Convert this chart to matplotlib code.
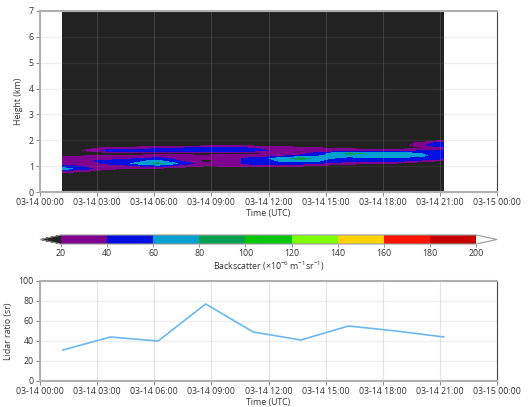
import numpy as np
import matplotlib
matplotlib.use('Agg')
import matplotlib.pyplot as plt
import matplotlib.dates as mdates
from matplotlib.colors import ListedColormap, BoundaryNorm
from datetime import datetime, timedelta

plt.rcParams['font.family'] = ['Open Sans', 'DejaVu Sans']
plt.rcParams['mathtext.fontset'] = 'custom'
plt.rcParams['mathtext.rm'] = 'Open Sans'
plt.rcParams['mathtext.it'] = 'Open Sans'
plt.rcParams['font.size'] = 6.3

# profile times (UTC) - every 2.5 h
times = [datetime(2023, 3, 14, 1, 12) + timedelta(minutes=150 * i) for i in range(9)]

heights = [0.06, 0.6, 0.7, 0.8, 0.9, 1.0, 1.1, 1.2, 1.3, 1.4, 1.5, 1.6, 1.7, 1.8, 1.9, 2.0, 2.1, 7.0]

# backscatter (x1e-6 m-1 sr-1), rows = heights, cols = times
backscatter = [
    [0,  0,  0,  0,  0,  0,  0,  0,  0],
    [0,  0,  0,  0,  0,  0,  0,  0,  0],
    [10, 0,  0,  0,  0,  0,  0,  0,  0],
    [30, 10, 5,  0,  0,  0,  0,  0,  0],
    [70, 22, 15, 5,  5,  5,  0,  0,  0],
    [45, 30, 45, 18, 25, 20, 5,  5,  5],
    [30, 42, 85, 25, 45, 45, 25, 15, 5],
    [30, 45, 65, 10, 50, 70, 45, 45, 15],
    [40, 30, 45, 25, 45, 90, 40, 55, 45],
    [15, 22, 25, 22, 25, 45, 75, 80, 50],
    [0,  10, 12, 15, 15, 30, 85, 70, 50],
    [0,  50, 50, 45, 45, 30, 30, 30, 40],
    [0,  28, 35, 45, 40, 25, 15, 10, 25],
    [0,  0,  5,  15, 15, 10, 5,  5,  60],
    [0,  0,  0,  0,  0,  0,  0,  0,  50],
    [0,  0,  0,  0,  0,  0,  0,  0,  20],
    [0,  0,  0,  0,  0,  0,  0,  0,  0],
    [0,  0,  0,  0,  0,  0,  0,  0,  0],
]

lidar_ratio = [31, 44, 40, 77, 49, 41, 55, 50, 44]

levels = [20, 40, 60, 80, 100, 120, 140, 160, 180, 200]
colors = ['#800090', '#0010e0', '#00a0d0', '#00a050', '#00c800',
          '#80ff00', '#ffd400', '#ff1400', '#c80000']

cmap = ListedColormap(colors)
cmap.set_under('#222222')
cmap.set_over('#ffffff')
norm = BoundaryNorm(levels, cmap.N)

W, H = 529, 407
fig = plt.figure(figsize=(W / 100, H / 100), dpi=100)
ax1 = fig.add_axes([40 / W, (H - 192) / H, 457 / W, 181 / H])
cax = fig.add_axes([40 / W, (H - 244) / H, 457 / W, 9 / H])
ax2 = fig.add_axes([40 / W, (H - 381) / H, 457 / W, 100 / H])

cf = ax1.contourf(mdates.date2num(times), heights, np.array(backscatter),
                  levels=levels, cmap=cmap, norm=norm, extend='both')

cb = fig.colorbar(cf, cax=cax, orientation='horizontal', ticks=levels)
cb.outline.set_edgecolor('#999999')
cb.outline.set_linewidth(0.8)
cb.set_label(r'Backscatter ($\times$10$^{-6}$ m$^{-1}$sr$^{-1}$)', color='#333333', labelpad=1)
cax.tick_params(length=2, color='#888888', labelcolor='#333333', width=0.6, pad=1.5)

ax2.plot(times, lidar_ratio, color='#6cb8f0', lw=1.2)

start = datetime(2023, 3, 14)
end = datetime(2023, 3, 15)
for ax in (ax1, ax2):
    ax.set_xlim(start, end)
    ax.xaxis.set_major_locator(mdates.HourLocator(byhour=range(0, 24, 3)))
    ax.xaxis.set_major_formatter(mdates.DateFormatter('%m-%d %H:%M'))
    ax.set_xlabel('Time (UTC)', color='#333333', labelpad=1)
    ax.grid(axis='x', color='#999999', alpha=0.25, lw=0.8)
    ax.grid(axis='y', color='#888888', alpha=0.13, lw=1.0)
    ax.tick_params(direction='out', length=3, width=0.7, color='#888888',
                   labelcolor='#333333', pad=1.5)
    for s in ('top', 'left', 'bottom'):
        ax.spines[s].set_color('#b0b0b0')
        ax.spines[s].set_linewidth(1.5)
    ax.spines['right'].set_color('#444444')
    ax.spines['right'].set_linewidth(0.8)

ax1.set_ylim(0, 7)
ax1.set_yticks(range(0, 8))
ax1.set_ylabel('Height (km)', color='#333333', labelpad=4)

ax2.set_ylim(0, 100)
ax2.set_yticks(range(0, 101, 20))
ax2.set_ylabel('Lidar ratio (sr)', color='#333333', labelpad=4)

fig.savefig('out.png', dpi=100)
